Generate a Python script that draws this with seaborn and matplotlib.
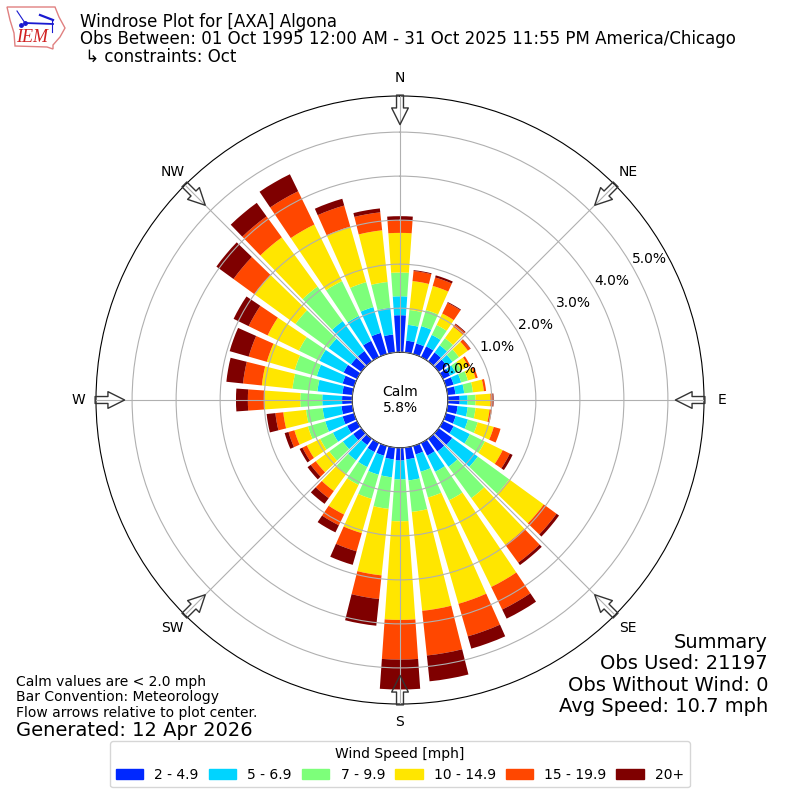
#!/usr/bin/env python3
import numpy as np
import pandas as pd
import matplotlib
matplotlib.use("Agg")
import matplotlib.pyplot as plt
from matplotlib.patches import Patch, Polygon
import seaborn as sns

# Percent of obs per direction bin, one list per speed class
directions = list(range(0, 360, 10))
speed_2_5 = [.84, .27, .25, .27, .25, .23, .18, .18, .18, .27, .23, .23, .27, .38, .36, .32, .20, .27,
             .29, .27, .23, .23, .18, .23, .25, .27, .25, .23, .23, .27, .34, .29, .29, .41, .50, .41]
speed_5_7 = [.43, .36, .41, .29, .20, .16, .14, .18, .20, .18, .23, .29, .41, .72, .43, .41, .41, .48,
             .43, .41, .45, .38, .43, .29, .36, .41, .43, .45, .57, .61, .61, .63, .84, .63, .61, .61]
speed_7_10 = [.54, .34, .38, .25, .20, .18, .14, .16, .20, .18, .18, .23, .38, .88, .88, .72, .61, .72,
              .95, .72, .57, .45, .38, .38, .32, .41, .38, .50, .57, .52, .52, .93, .97, .88, .59, .59]
speed_10_15 = [.90, .66, .57, .29, .32, .25, .18, .18, .25, .34, .32, .38, .45, .97, 1.31, 2.19, 2.51, 2.26,
               2.24, 1.52, .81, .75, .48, .38, .34, .32, .52, .81, .70, .66, .79, 1.15, 1.38, 1.43, 1.31, 1.18]
speed_15_20 = [.29, .23, .20, .27, .07, .07, .05, .05, .05, .05, .05, .16, .18, .36, .50, .57, .77, 1.02,
               .90, .54, .43, .27, .20, .14, .11, .14, .18, .38, .43, .43, .48, .59, .59, .84, .50, .41]
speed_20up = [.09, .02, .05, .02, .02, .01, 0, 0, 0, .02, 0, 0, .07, .07, .07, .23, .29, .59,
              .68, .61, .32, .18, .16, .09, .07, .09, .20, .27, .38, .45, .38, .48, .38, .43, .16, .09]

speed_bins = [speed_2_5, speed_5_7, speed_7_10, speed_10_15, speed_15_20, speed_20up]
speed_labels = ["2 - 4.9", "5 - 6.9", "7 - 9.9", "10 - 14.9", "15 - 19.9", "20+"]
speed_colors = ["#0028ff", "#00d4ff", "#7dff7a", "#ffe600", "#ff4700", "#7f0000"]

compass_deg = [0, 45, 90, 135, 180, 225, 270, 315]
compass_names = ["N", "NE", "E", "SE", "S", "SW", "W", "NW"]
ring_values = [0, 1, 2, 3, 4, 5]

fig = plt.figure(figsize=(8, 8), dpi=100)
ax = fig.add_axes([0.12, 0.12, 0.76, 0.76], projection="polar")
ax.set_theta_zero_location("N")
ax.set_theta_direction(-1)

theta = np.radians(directions)
bottom = np.zeros(len(directions))
for vals, color in zip(speed_bins, speed_colors):
    df = pd.DataFrame({"theta": theta, "pct": vals})
    sns.barplot(data=df, x="theta", y="pct", native_scale=True, color=color, saturation=1,
                width=0.8, errorbar=None, bottom=bottom, linewidth=0, edgecolor="none", ax=ax)
    bottom = bottom + np.array(vals)

ax.set_xlabel("")
ax.set_ylabel("")
ax.set_axisbelow(False)
ax.set_xticks(np.radians(compass_deg))
ax.set_xticklabels(compass_names)
ax.tick_params(axis="x", pad=2.5)
ax.set_yticks(ring_values)
ax.set_yticklabels([f"{v:.1f}%" for v in ring_values])
ax.set_rlabel_position(60)
ax.set_ylim(0, 5.82)
ax.set_rorigin(-1.086)
ax.grid(True, color="#b0b0b0", linewidth=0.8)

# Flow arrows round the edge
for deg in compass_deg:
    ax.annotate("", xy=(np.radians(deg), 5.17), xytext=(np.radians(deg), 5.84),
                annotation_clip=False,
                arrowprops=dict(facecolor="none", edgecolor="#333333", linewidth=1,
                                width=5, headwidth=12, headlength=12, shrink=0))

ax.text(0.5, 0.5, "Calm\n5.8%", transform=ax.transAxes, ha="center", va="center", fontsize=10)

fig.text(80 / 800, 1 - 13 / 800, "Windrose Plot for [AXA] Algona\n"
         "Obs Between: 01 Oct 1995 12:00 AM - 31 Oct 2025 11:55 PM America/Chicago\n"
         " ↳ constraints: Oct", fontsize=12, va="top", ha="left", linespacing=0.96)
fig.text(768 / 800, 1 - 716 / 800, "Summary\nObs Used: 21197\nObs Without Wind: 0\nAvg Speed: 10.7 mph",
         fontsize=14, ha="right", va="bottom", linespacing=1.16)
fig.text(16 / 800, 1 - 720 / 800, "Calm values are < 2.0 mph\nBar Convention: Meteorology\n"
         "Flow arrows relative to plot center.", fontsize=10, ha="left", va="bottom", linespacing=1.15)
fig.text(16 / 800, 1 - 740 / 800, "Generated: 12 Apr 2026", fontsize=14, ha="left", va="bottom")

handles = [Patch(color=c, label=l) for c, l in zip(speed_colors, speed_labels)]
fig.legend(handles=handles, title="Wind Speed [mph]", ncol=6, loc="lower center", columnspacing=0.7,
           bbox_to_anchor=(0.5, 0.007), fontsize=10, title_fontsize=10)

# IEM logo, drawn in pixel units
logo = fig.add_axes([0, 1 - 52 / 800, 70 / 800, 52 / 800])
logo.set_xlim(0, 70)
logo.set_ylim(52, 0)
logo.axis("off")
outline = [(7, 7), (55, 7), (59, 17), (65, 28), (60, 37), (53, 45), (53, 49), (47, 47), (15, 46), (14, 33), (10, 20)]
logo.add_patch(Polygon(outline, closed=True, facecolor="white", edgecolor="#e08080", linewidth=1))
logo.plot([25, 53], [23, 24], color="#1a1ad0", linewidth=1.3)
logo.plot([17, 25], [11, 23], color="#1a1ad0", linewidth=0.8)
logo.plot([40, 53], [15, 20], color="#1a1ad0", linewidth=1.6)
logo.plot([52, 52], [20, 32], color="#1a1ad0", linewidth=0.8)
logo.plot([25, 21], [23, 25], "o", color="#1a1ad0", markersize=2.5)
logo.text(16, 38, "IEM", color="#d02020", family="Liberation Serif", style="italic", fontsize=13, va="center")

fig.savefig("out.png", dpi=100)
